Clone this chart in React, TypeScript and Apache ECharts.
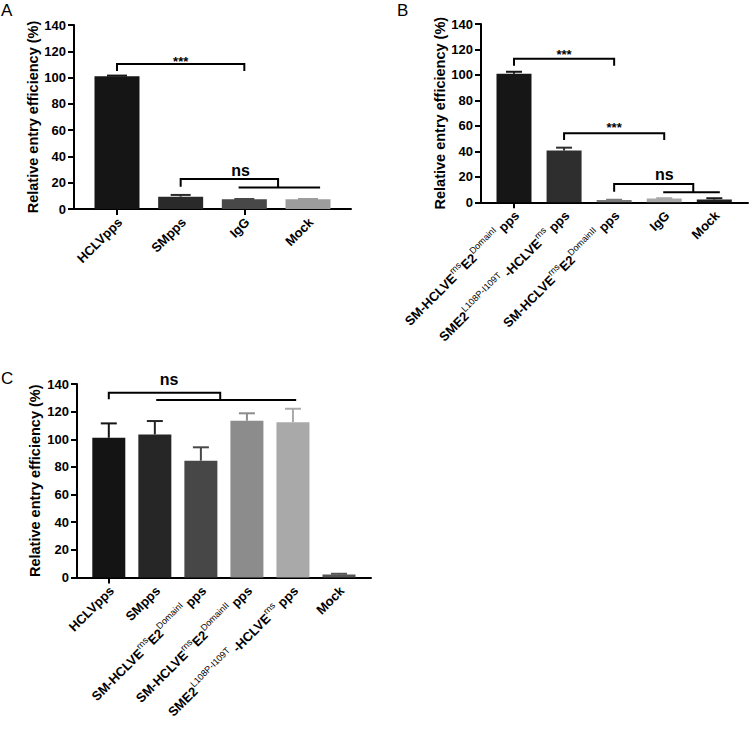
import React, { useEffect, useRef } from "react";
import * as echarts from "echarts";

const FONT = "Arial, 'Liberation Sans', Helvetica, sans-serif";
const Y_TITLE = "Relative entry efficiency (%)";
const Y_MIN = 0;
const Y_MAX = 140;
const Y_STEP = 20;

// ---------- Panel A ----------
const catsA = ["HCLVpps", "SMpps", "IgG", "Mock"];
const valsA = [101, 9.4, 7.4, 7.4];
const errA = [0.5, 1.3, 0.2, 0.2];
const colorsA = ["#151515", "#2a2a2a", "#484848", "#9c9c9c"];
// [x1, x2, y, yLeftEnd, yRightEnd] in category-index units
const bracketsA = [
  [0, 2, 110.3, 105, 105],
  [1, 2.53, 22.8, 17, 16.3],
];
// [x1, x2, y]
const linesA = [[1.91, 3.19, 16.3]];
// [x, y]
const marksPosA = [
  [1, 112.5],
  [1.94, 29],
];
const marksTextA = ["***", "ns"];

// ---------- Panel B ----------
const catsB = [
  "SM-HCLVE^{rns}E2^{DomainI} pps",
  "SME2^{L108P-I109T} -HCLVE^{rns} pps",
  "SM-HCLVE^{rns}E2^{DomainII} pps",
  "IgG",
  "Mock",
];
const valsB = [101, 40.6, 1.8, 3.0, 2.2];
const errB = [1.5, 2.3, 0.2, 0.2, 1.0];
const colorsB = ["#161616", "#2e2e2e", "#7a7a7a", "#a8a8a8", "#1e1e1e"];
const bracketsB = [
  [0, 2, 112.7, 107.2, 107.2],
  [1, 3, 54.3, 49, 49],
  [2, 3.58, 14.4, 8.3, 7.9],
];
const linesB = [[2.98, 4.11, 7.9]];
const marksPosB = [
  [1, 116],
  [2, 58.5],
  [3, 21.5],
];
const marksTextB = ["***", "***", "ns"];

// ---------- Panel C ----------
const catsC = [
  "HCLVpps",
  "SMpps",
  "SM-HCLVE^{rns}E2^{DomainI} pps",
  "SM-HCLVE^{rns}E2^{DomainII} pps",
  "SME2^{L108P-I109T} -HCLVE^{rns} pps",
  "Mock",
];
const valsC = [101.1, 103.5, 84.5, 113.4, 112.4, 2.2];
const errC = [10.4, 9.7, 9.7, 5.4, 9.7, 0.5];
const colorsC = ["#141414", "#262626", "#474747", "#8c8c8c", "#a9a9a9", "#555555"];
const bracketsC = [[0, 2.42, 133.6, 129, 128.4]];
const linesC = [[1.03, 4.07, 128.4]];
const marksPosC = [[1.31, 143]];
const marksTextC = ["ns"];

type Layout = {
  axisLeft: number;
  axisRight: number;
  firstCenter: number;
  lastCenter: number;
  top: number;
  bottom: number;
  barWidth: number;
  capWidth: number;
  nameGap: number;
};
const layoutA: Layout = { axisLeft: 74, axisRight: 351, firstCenter: 117, lastCenter: 308, top: 25, bottom: 209, barWidth: 45, capWidth: 20, nameGap: 34 };
const layoutB: Layout = { axisLeft: 481, axisRight: 748, firstCenter: 514, lastCenter: 714.3, top: 24, bottom: 202.3, barWidth: 35, capWidth: 16, nameGap: 34 };
const layoutC: Layout = { axisLeft: 77, axisRight: 371, firstCenter: 108.8, lastCenter: 339, top: 384, bottom: 577.5, barWidth: 33, capWidth: 16, nameGap: 35 };

// label typography
const BASE_SIZE = 13;
const SUP_SIZE = 9;
const SUP_RAISE = 5;
const LABEL_DX = 3;
const LABEL_DY = 11;
const ROT = Math.PI / 4;

let measureCtx: CanvasRenderingContext2D | null = null;
const measure = (text: string, size: number, weight: string) => {
  if (!measureCtx) measureCtx = document.createElement("canvas").getContext("2d");
  if (!measureCtx) return text.length * size * 0.6;
  measureCtx.font = `${weight} ${size}px ${FONT}`;
  return measureCtx.measureText(text).width;
};

type Seg = { t: string; sup: boolean };
const parseSegs = (s: string): Seg[] =>
  s
    .split(/\^\{([^}]*)\}/)
    .map((t, i) => ({ t, sup: i % 2 === 1 }))
    .filter((g) => g.t !== "");

function buildPanel(cats: string[], vals: number[], colors: string[], L: Layout, idx: number) {
  const n = cats.length;
  const band = (L.lastCenter - L.firstCenter) / (n - 1);
  const innerLeft = L.firstCenter - band / 2;
  const innerWidth = band * n;
  const xMin = (L.axisLeft - L.firstCenter) / band;
  const xMax = n - 1 + (L.axisRight - L.lastCenter) / band;
  const outerGrid = idx * 2;
  const innerGrid = idx * 2 + 1;
  const height = L.bottom - L.top;

  const grids = [
    { left: L.axisLeft, top: L.top, width: L.axisRight - L.axisLeft, height, containLabel: false },
    { left: innerLeft, top: L.top, width: innerWidth, height, containLabel: false },
  ];

  const black = { color: "#000", width: 2 };
  const xAxes = [
    {
      gridIndex: outerGrid,
      type: "value",
      min: xMin,
      max: xMax,
      axisLine: { show: true, onZero: false, lineStyle: black },
      axisTick: { show: false },
      axisLabel: { show: false },
      splitLine: { show: false },
    },
    {
      gridIndex: innerGrid,
      type: "category",
      data: cats,
      axisLine: { show: false },
      axisTick: { show: true, alignWithLabel: true, length: 6, lineStyle: black },
      axisLabel: { show: false },
      splitLine: { show: false },
    },
  ];
  const yAxes = [
    {
      gridIndex: outerGrid,
      type: "value",
      min: Y_MIN,
      max: Y_MAX,
      interval: Y_STEP,
      axisLine: { show: true, onZero: false, lineStyle: black },
      axisTick: { show: true, length: 6, lineStyle: black },
      axisLabel: { fontFamily: FONT, fontSize: 13, fontWeight: "bold", color: "#000", margin: 8 },
      splitLine: { show: false },
      name: Y_TITLE,
      nameLocation: "middle",
      nameGap: L.nameGap,
      nameTextStyle: { fontFamily: FONT, fontSize: 14.5, fontWeight: "bold", color: "#000" },
    },
    {
      gridIndex: innerGrid,
      type: "value",
      min: Y_MIN,
      max: Y_MAX,
      show: false,
      splitLine: { show: false },
    },
  ];

  const series: any[] = [
    {
      type: "bar",
      xAxisIndex: innerGrid,
      yAxisIndex: innerGrid,
      barWidth: L.barWidth,
      data: vals.map((v, i) => ({ value: v, itemStyle: { color: colors[i] } })),
      z: 2,
    },
  ];

  return { grids, xAxes, yAxes, series };
}

// annotations (error bars, brackets, marks, rotated labels) placed through the chart's own scales
function annotations(
  chart: any,
  cats: string[],
  vals: number[],
  errs: number[],
  colors: string[],
  brackets: number[][],
  lines: number[][],
  marksPos: number[][],
  marksText: string[],
  L: Layout,
  idx: number
) {
  const out: any[] = [];
  const finder = { gridIndex: idx * 2 };
  const px = (x: number, y: number) => chart.convertToPixel(finder, [x, y]) as number[];

  // error bars
  vals.forEach((v, i) => {
    const p0 = px(i, v);
    const p1 = px(i, v + errs[i]);
    const st = { stroke: colors[i], lineWidth: 2 };
    out.push({ type: "line", z: 10, shape: { x1: p0[0], y1: p0[1], x2: p1[0], y2: p1[1] }, style: st });
    out.push({
      type: "line",
      z: 10,
      shape: { x1: p1[0] - L.capWidth / 2, y1: p1[1], x2: p1[0] + L.capWidth / 2, y2: p1[1] },
      style: st,
    });
  });

  // brackets
  brackets.forEach((b) => {
    const a = px(b[0], b[2]);
    const c = px(b[1], b[2]);
    const yl = px(b[0], b[3])[1];
    const yr = px(b[1], b[4])[1];
    out.push({
      type: "polyline",
      z: 11,
      shape: { points: [[a[0], yl], a, c, [c[0], yr]] },
      style: { stroke: "#000", lineWidth: 2, fill: "none" },
    });
  });
  lines.forEach((l) => {
    const a = px(l[0], l[2]);
    const c = px(l[1], l[2]);
    out.push({ type: "line", z: 11, shape: { x1: a[0], y1: a[1], x2: c[0], y2: c[1] }, style: { stroke: "#000", lineWidth: 2 } });
  });

  // significance marks
  marksPos.forEach((m, i) => {
    const p = px(m[0], m[1]);
    const t = marksText[i];
    out.push({
      type: "text",
      z: 12,
      x: p[0],
      y: p[1],
      style: {
        text: t,
        align: "center",
        verticalAlign: "middle",
        fontFamily: FONT,
        fontWeight: "bold",
        fontSize: t === "ns" ? 16 : 13,
        fill: "#000",
      },
    });
  });

  // rotated category labels with superscripts
  const c = Math.cos(ROT);
  const s = Math.sin(ROT);
  cats.forEach((name, i) => {
    const p = px(i, Y_MIN);
    const ax = p[0] + LABEL_DX;
    const ay = p[1] + LABEL_DY;
    const segs = parseSegs(name);
    const widths = segs.map((g) => measure(g.t, g.sup ? SUP_SIZE : BASE_SIZE, g.sup ? "normal" : "bold"));
    const total = widths.reduce((a, b) => a + b, 0);
    let lx = -total;
    segs.forEach((g, k) => {
      const ly = g.sup ? -SUP_RAISE : 0;
      out.push({
        type: "text",
        z: 12,
        x: ax + lx * c + ly * s,
        y: ay - lx * s + ly * c,
        rotation: ROT,
        style: {
          text: g.t,
          align: "left",
          verticalAlign: "middle",
          fontFamily: FONT,
          fontSize: g.sup ? SUP_SIZE : BASE_SIZE,
          fontWeight: g.sup ? "normal" : "bold",
          fill: "#000",
        },
      });
      lx += widths[k];
    });
  });
  return out;
}

export default function App() {
  const ref = useRef<HTMLDivElement>(null);
  useEffect(() => {
    if (!ref.current) return;
    const chart = echarts.init(ref.current, undefined, { renderer: "svg" });
    const A = buildPanel(catsA, valsA, colorsA, layoutA, 0);
    const B = buildPanel(catsB, valsB, colorsB, layoutB, 1);
    const C = buildPanel(catsC, valsC, colorsC, layoutC, 2);
    const letter = (text: string, left: number, top: number) => ({
      text,
      left,
      top,
      padding: 0,
      textStyle: { fontFamily: FONT, fontSize: 17, fontWeight: "normal", color: "#000" },
    });
    chart.setOption({
      animation: false,
      backgroundColor: "#fff",
      title: [letter("A", 1, 2), letter("B", 397, 2), letter("C", 1, 370)],
      grid: [...A.grids, ...B.grids, ...C.grids],
      xAxis: [...A.xAxes, ...B.xAxes, ...C.xAxes],
      yAxis: [...A.yAxes, ...B.yAxes, ...C.yAxes],
      series: [...A.series, ...B.series, ...C.series],
    });
    chart.setOption({
      graphic: [
        ...annotations(chart, catsA, valsA, errA, colorsA, bracketsA, linesA, marksPosA, marksTextA, layoutA, 0),
        ...annotations(chart, catsB, valsB, errB, colorsB, bracketsB, linesB, marksPosB, marksTextB, layoutB, 1),
        ...annotations(chart, catsC, valsC, errC, colorsC, bracketsC, linesC, marksPosC, marksTextC, layoutC, 2),
      ],
    });
    return () => chart.dispose();
  }, []);
  return <div ref={ref} style={{ position: "fixed", left: 0, top: 0, width: 750, height: 738 }} />;
}
